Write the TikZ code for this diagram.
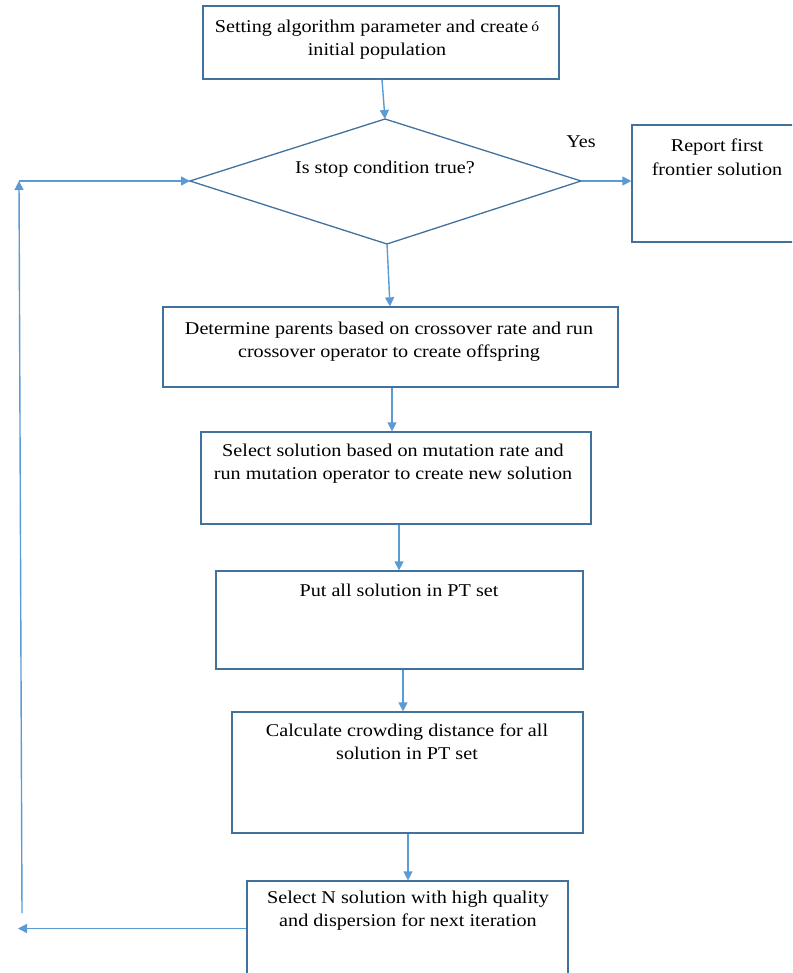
\documentclass[tikz,border=0pt]{standalone}
\usepackage{fontspec}
\setmainfont{Liberation Serif}[FakeStretch=1.12]
\usetikzlibrary{arrows.meta}
\definecolor{boxc}{RGB}{65,113,156}
\definecolor{arrc}{RGB}{91,155,213}
\begin{document}
\begin{tikzpicture}[x=1pt,y=-1pt,
  box/.style={draw=boxc,line width=1.3pt,rectangle,inner sep=0pt},
  txt/.style={align=center,font=\fontsize{18}{23}\selectfont,inner sep=0pt,anchor=north},
  arr/.style={draw=arrc,line width=1.4pt,-{Triangle[length=9pt,width=9pt]}}]
\useasboundingbox (0,0) rectangle (792,973);
\clip (0,0) rectangle (792,973);
% boxes
\node[box,minimum width=356pt,minimum height=73pt] (b1) at (381,42.5) {};
\node[box,minimum width=163pt,minimum height=117pt] (rep) at (713.5,183.5) {};
\node[box,minimum width=455pt,minimum height=80pt] (b3) at (390.5,347) {};
\node[box,minimum width=390pt,minimum height=92pt] (b4) at (396,478) {};
\node[box,minimum width=367pt,minimum height=98pt] (b5) at (399.5,620) {};
\node[box,minimum width=351pt,minimum height=121pt] (b6) at (407.5,772.5) {};
\node[box,minimum width=321pt,minimum height=114pt] (b7) at (407.5,938) {};
% diamond
\coordinate (dl) at (190,181);
\coordinate (dt) at (385,119);
\coordinate (dr) at (581,181);
\coordinate (db) at (387,244);
\draw[boxc,line width=1.3pt,line join=miter] (dl) -- (dt) -- (dr) -- (db) -- cycle;
% texts
\node[txt] (t1) at (377,20) {Setting algorithm parameter and create\,\raisebox{0.15ex}{\fontsize{14}{14}\selectfont ó}\\initial population};
\node[txt] (td) at (385,161) {Is stop condition true?};
\node[txt,font=\fontsize{18}{24}\selectfont] (trep) at (717,139) {Report first\\frontier solution};
\node[txt] (t3) at (389,322) {Determine parents based on crossover rate and run\\crossover operator to create offspring};
\node[txt] (t4) at (393,444) {Select solution based on mutation rate and\\run mutation operator to create new solution};
\node[txt] (t5) at (399,584) {Put all solution in PT set};
\node[txt] (t6) at (407,724) {Calculate crowding distance for all\\solution in PT set};
\node[txt] (t7) at (408,891) {Select N solution with high quality\\and dispersion for next iteration};
\node[txt] (yes) at (581,136) {Yes};
% connectors
\draw[arr] ([xshift=1pt]b1.south) -- (dt);
\draw[arr] (dr) -- (rep.west |- dr);
\draw[arr] (db) -- ([xshift=-0.5pt]b3.north);
\draw[arr] ([xshift=1.5pt]b3.south) -- ([xshift=-4pt]b4.north);
\draw[arr] ([xshift=3pt]b4.south) -- ([xshift=-0.5pt]b5.north);
\draw[arr] ([xshift=3.5pt]b5.south) -- ([xshift=-4.5pt]b6.north);
\draw[arr] ([xshift=0.5pt]b6.south) -- ([xshift=0.5pt]b7.north);
% loop back
\coordinate (lb) at (22,913);
\coordinate (lt) at (19,181);
\coordinate (le) at (18,928.5);
\draw[arr] (lb) -- (lt);
\draw[arr] (lt) -- (dl);
\draw[arr] ([yshift=9.5pt]b7.west) -- (le);
\end{tikzpicture}
\end{document}
